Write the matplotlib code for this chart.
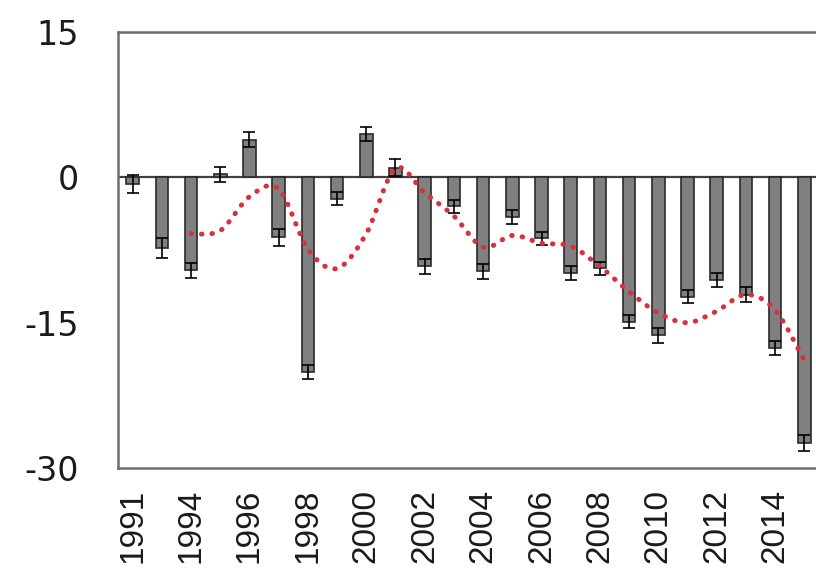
import matplotlib
matplotlib.use("Agg")
import matplotlib.pyplot as plt
import numpy as np
from matplotlib.path import Path
from matplotlib.patches import PathPatch

# Annual anomaly per year, with error and a 3-point moving average trend
years = [1991, 1993, 1994, 1995, 1996, 1997, 1998, 1999, 2000, 2001, 2002, 2003,
         2004, 2005, 2006, 2007, 2008, 2009, 2010, 2011, 2012, 2013, 2014, 2015]
values = [-0.7, -7.3, -9.6, 0.3, 3.9, -6.2, -20.1, -2.2, 4.5, 1.0, -9.2, -3.0,
          -9.7, -4.1, -6.3, -9.9, -9.4, -14.9, -16.3, -12.3, -10.6, -12.1, -17.6, -27.4]
errors = [0.9, 1.0, 0.8, 0.8, 0.8, 0.9, 0.7, 0.7, 0.7, 0.9, 0.8, 0.7,
          0.8, 0.7, 0.7, 0.7, 0.7, 0.7, 0.8, 0.7, 0.7, 0.8, 0.7, 0.8]
trend = [-5.8, -5.5, -2.0, -1.2, -7.4, -9.4, -5.8, 0.9, -1.6, -4.0, -7.2,
         -6.0, -6.8, -7.1, -9.2, -11.8, -14.0, -15.0, -13.8, -12.1, -13.7, -18.9]
yticks = [15, 0, -15, -30]


def smooth_path(xs, ys):
    # Catmull-Rom style bezier through the points (like a smoothed line)
    pts = np.column_stack([xs, ys])
    n = len(pts)
    verts = [pts[0]]
    codes = [Path.MOVETO]
    for i in range(n - 1):
        p0 = pts[max(i - 1, 0)]
        p1 = pts[i]
        p2 = pts[i + 1]
        p3 = pts[min(i + 2, n - 1)]
        c1 = p1 + (p2 - p0) / 6.0
        c2 = p2 - (p3 - p1) / 6.0
        verts += [c1, c2, p2]
        codes += [Path.CURVE4] * 3
    return Path(verts, codes)


fig = plt.figure(figsize=(8.16, 5.79), dpi=100)
ax = fig.add_axes([118 / 816, 1 - 468 / 579, 701 / 816, 436 / 579])

x = np.arange(len(years))
ax.bar(x, values, width=0.43, color="#808080", edgecolor="#2a2a2a", linewidth=1.2, zorder=2)
ax.errorbar(x, values, yerr=errors, fmt="none", ecolor="black", elinewidth=1.2,
            capsize=4, capthick=1.2, zorder=3)

ax.axhline(0, color="#404040", linewidth=1.6, zorder=1)

trend_x = x[len(years) - len(trend):]
patch = PathPatch(smooth_path(trend_x, trend), fill=False, edgecolor="#d8303c",
                  linewidth=3.6, linestyle=(0, (0.1, 2.0)), capstyle="round", zorder=4)
ax.add_patch(patch)

ax.set_xlim(-0.5, len(years) - 0.5)
ax.set_ylim(-30, 15)
ax.set_yticks(yticks)
ax.set_yticklabels([str(v) for v in yticks], fontsize=24, family="DejaVu Sans", color="#1a1a1a")

tick_pos = x[::2]
ax.set_xticks(tick_pos)
ax.set_xticklabels([str(years[i]) for i in tick_pos], rotation=90, fontsize=24,
                   family="Liberation Sans", color="#1a1a1a")

ax.tick_params(axis="y", length=0, pad=28)
ax.tick_params(axis="x", length=0, pad=15)

for side in ["left", "right", "top", "bottom"]:
    ax.spines[side].set_color("#6e6e6e")
    ax.spines[side].set_linewidth(1.8)

fig.savefig("out.png", dpi=100)
